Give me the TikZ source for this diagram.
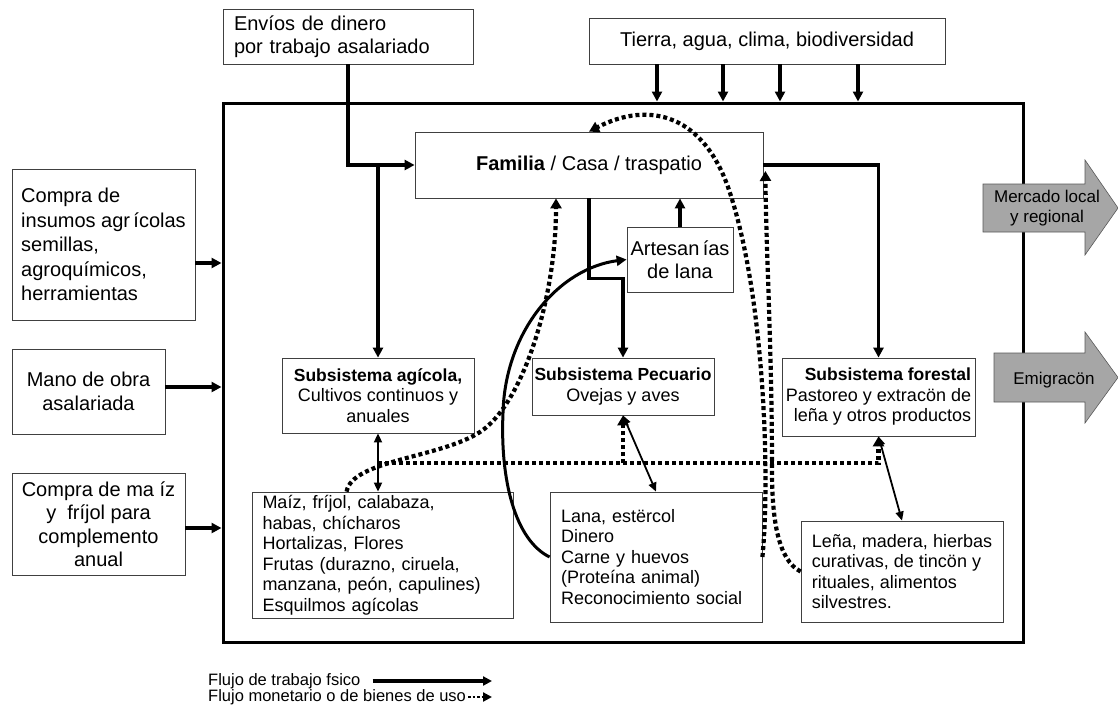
\documentclass[tikz,border=0pt]{standalone}
\usepackage{fontspec}
\setmainfont{Liberation Sans}
\usetikzlibrary{positioning,arrows.meta,calc,shapes.geometric}

\newcommand{\titulofont}{\fontsize{17.5}{20.5}\selectfont\bfseries}

\tikzset{
  caja/.style={draw=black!75, line width=0.8pt, fill=white, inner sep=0pt,
    align=center, font=\fontsize{18}{20.5}\selectfont},
  cajaext/.style={caja, font=\fontsize{20}{23.5}\selectfont},
  flujo/.style={line width=3.8pt, -{Triangle[length=10pt,width=10pt]}},
  bienes/.style={line width=4.2pt, dash pattern=on 4pt off 3pt,
    -{Triangle[length=10pt,width=11pt]}},
  doble/.style={line width=1.8pt,
    {Triangle[length=9pt,width=8pt]}-{Triangle[length=9pt,width=8pt]}},
  salida/.style={fill=black!35, draw=black!65, line width=0.6pt},
  leyenda/.style={anchor=west, inner sep=0pt, font=\fontsize{16.5}{16.5}\selectfont},
}

\begin{document}
\begin{tikzpicture}[x=1pt, y=-1pt]
    \useasboundingbox (0,0) rectangle (1118,720);

    % sistema
    \node[draw, line width=3pt, minimum width=800pt, minimum height=539pt, inner sep=0pt] (sistema) at (623,372.5) {};

    % entradas
    \node[cajaext, minimum width=250pt, minimum height=55pt, text width=228pt, align=left] (envios) at (348,36.5) {Envíos de dinero\\por trabajo asalariado};
    \node[cajaext, minimum width=356pt, minimum height=46pt] (tierra) at (767,41) {Tierra, agua, clima, biodiversidad};
    \node[cajaext, minimum width=183pt, minimum height=151pt, align=left, font=\fontsize{20}{24.5}\selectfont] (insumos) at (103.5,244.5) {Compra de\\insumos agr\,ícolas\\semillas,\\agroquímicos,\\herramientas};
    \node[cajaext, minimum width=153pt, minimum height=85pt] (mano) at (88.5,391.5) {Mano de obra\\asalariada};
    \node[cajaext, minimum width=173pt, minimum height=102pt] (compra) at (98.5,524) {Compra de ma íz\\y~ fríjol para\\complemento\\anual};

    % familia y subsistemas
    \node[cajaext, minimum width=348pt, minimum height=66pt] (fam) at (589,165) {\textbf{Familia} / Casa / traspatio};
    \node[cajaext, minimum width=106pt, minimum height=65pt] (art) at (680,259.5) {Artesan\,ías\\de lana};
    \node[caja, minimum width=192pt, minimum height=75pt] (agri) at (378,395.5) {{\titulofont Subsistema agícola,}\\Cultivos continuos y\\anuales};
    \node[caja, minimum width=182pt, minimum height=57pt] (pec) at (623,386.5) {{\titulofont Subsistema Pecuario}\\Ovejas y aves};
    \node[caja, minimum width=193pt, minimum height=78pt, align=right] (for) at (878.5,397) {{\titulofont Subsistema forestal}\\Pastoreo y extracön de\\leña y otros productos};

    % productos
    \node[caja, minimum width=261pt, minimum height=126pt, text width=240pt, align=left] (maizprod) at (382.5,555) {Maíz, fríjol, calabaza,\\habas, chícharos\\Hortalizas, Flores\\Frutas (durazno, ciruela,\\manzana, peón, capulines)\\Esquilmos agícolas};
    \node[caja, minimum width=212pt, minimum height=130pt, text width=190pt, align=left] (pecprod) at (656,557) {Lana, estërcol\\Dinero\\Carne y huevos\\(Proteína animal)\\Reconocimiento social};
    \node[caja, minimum width=202pt, minimum height=101pt, align=left] (forprod) at (902,571.5) {Leña, madera, hierbas\\curativas, de tincön y\\rituales, alimentos\\silvestres.};

    % salidas
    \filldraw[salida] (983,184) -- (1085,184) -- (1085,160) -- (1118,208) -- (1085,255) -- (1085,232) -- (983,232) -- cycle;
    \node[font=\fontsize{17}{20}\selectfont, align=center] (mercado) at (1047,208) {Mercado local\\y regional};
    \filldraw[salida] (994,353) -- (1085,353) -- (1085,332) -- (1118,377.5) -- (1085,423) -- (1085,402) -- (994,402) -- cycle;
    \node[font=\fontsize{17}{20}\selectfont] (emig) at (1054,380) {Emigracön};

    % flujos de trabajo
    \draw[flujo] (envios.south) |- (fam.west);
    \draw[flujo] (agri.north |- fam.west) -- (agri.north);
    \foreach \x in {657,723,780,858}
        \draw[flujo] (tierra.south -| \x,0) -- (sistema.north -| \x,0);
    \draw[flujo] (insumos.east |- 0,263) -- (sistema.west |- 0,263);
    \draw[flujo] (mano.east |- 0,387) -- (sistema.west |- 0,387);
    \draw[flujo] (compra.east |- 0,528) -- (sistema.west |- 0,528);
    \draw[flujo] (fam.south) -- ++(0,80) -| (pec.north);
    \draw[flujo] (art.north) -- (art.north |- fam.south);
    \draw[flujo] (fam.east) -| (for.north);
    \draw[flujo, line width=3pt] (pecprod.west) .. controls (515,540) and (500,480) .. (503,413) .. controls (505,330) and (560,268) .. (art.west);

    \draw[doble] (agri.south) -- (agri.south |- maizprod.north);
    \draw[doble] (pec.south) -- (pecprod.north);
    \draw[doble] (for.south) -- (forprod.north);

    % flujos monetarios
    \coordinate (bus) at (0,463);
    \draw[bienes] (agri.south |- bus) -| (for.south);
    \draw[bienes] (pec.south |- bus) -- (pec.south);
    \draw[bienes] ([xshift=95pt]maizprod.north west) .. controls (352,460) and (440,458) .. (480,432) .. controls (522,405) and (556,300) .. ([xshift=-33pt]fam.south);
    \draw[bienes] (pecprod.east) .. controls (770,480) and (765,300) .. (730,193) .. controls (705,115) and (650,100) .. (fam.north);
    \draw[bienes] (forprod.west) .. controls (778,560) and (772,520) .. (772,470) .. controls (772,350) and (766,250) .. ([xshift=2pt,yshift=-6pt]fam.east);

    % leyenda
    \node[leyenda] (legtrab) at (208,681) {Flujo de trabajo fsico};
    \node[leyenda] (legmon) at (208,697) {Flujo monetario o de bienes de uso};
    \coordinate (tiptrab) at (492,681);
    \coordinate (tipmon) at (492,697);
    \draw[line width=3.5pt, -{Triangle[length=9pt,width=9pt]}] ([xshift=12pt]legtrab.east) -- (tiptrab);
    \draw[line width=2.5pt, dash pattern=on 2.5pt off 2pt, -{Triangle[length=9pt,width=9pt]}] ([xshift=2pt]legmon.east) -- (tipmon);
\end{tikzpicture}
\end{document}
